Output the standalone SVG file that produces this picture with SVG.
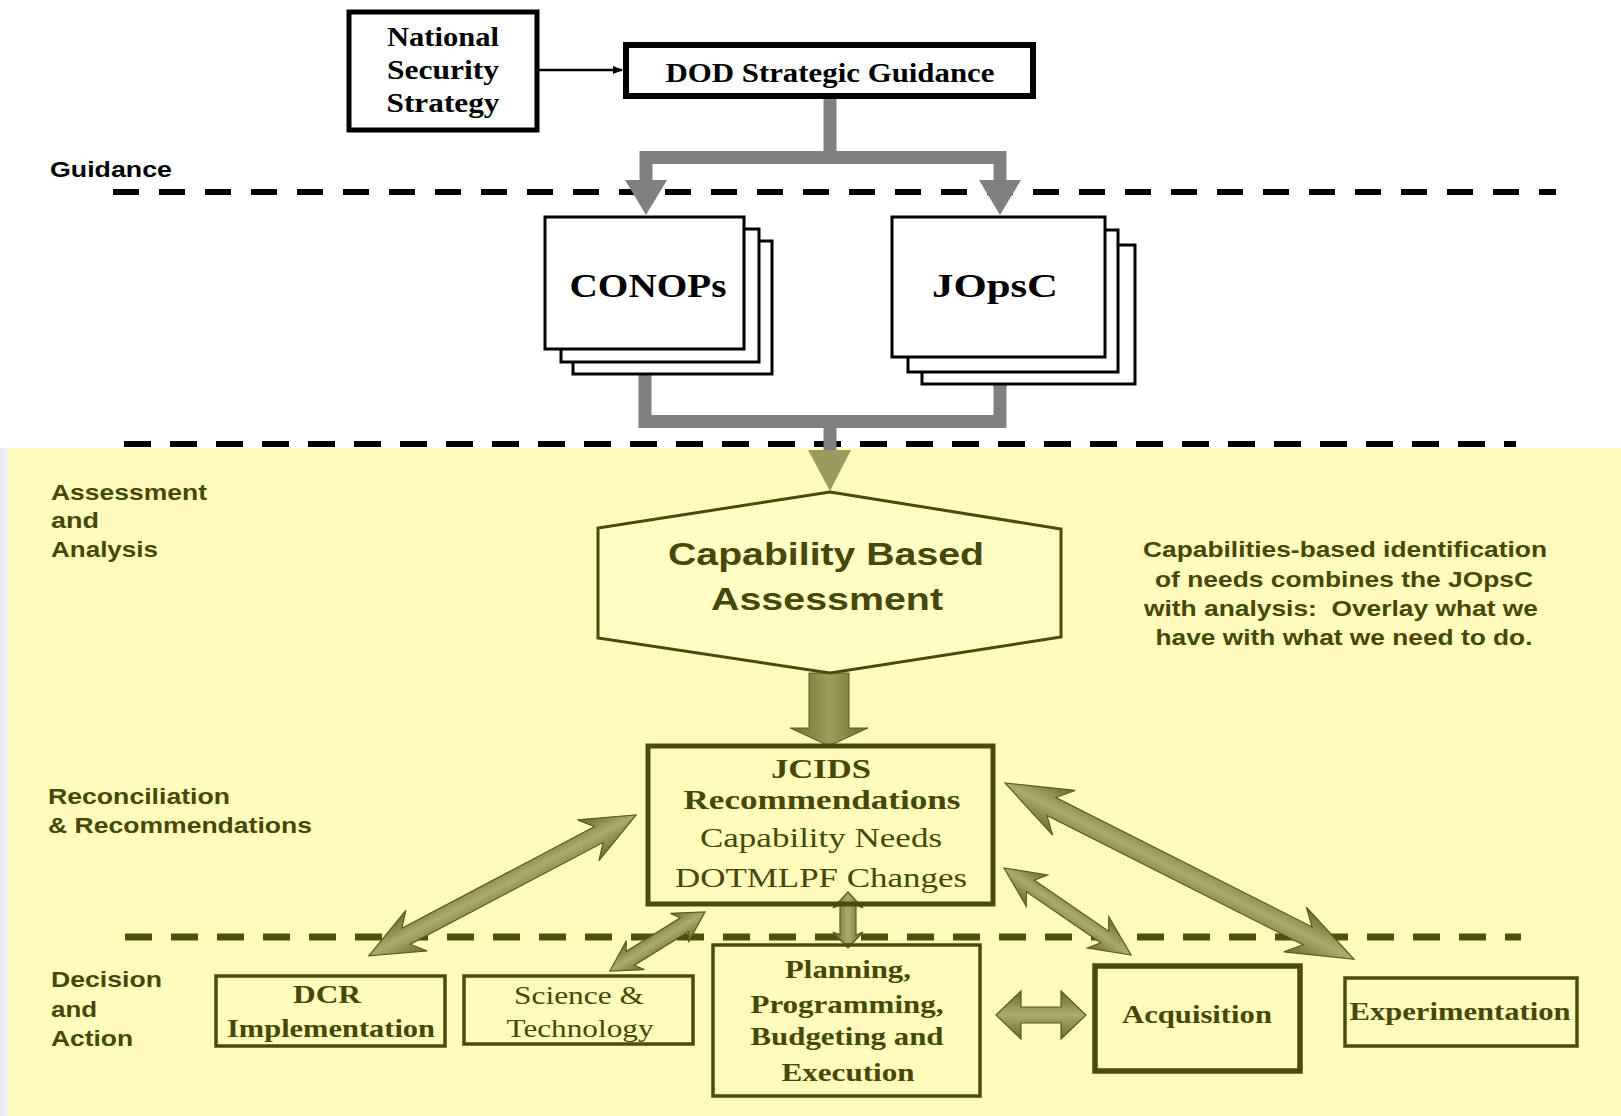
<svg xmlns="http://www.w3.org/2000/svg" width="1621" height="1116" viewBox="0 0 1621 1116">
<style>
.serif{font-family:"Liberation Serif","Times New Roman",serif}
.sans{font-family:"Liberation Sans",Arial,sans-serif}
.b{font-weight:bold}
.blk{fill:#000}
.olv{fill:#47470a}
.lbl{font-family:"Liberation Sans",Arial,sans-serif;font-weight:bold;font-size:22px;fill:#47470a}
.box{fill:none;stroke:#4a4a0b}
.page{fill:#fff;stroke:#000;stroke-width:3}
.dbl{fill:url(#oliveG);stroke:#5a5a1e;stroke-width:1.2}
</style>
<defs>
<linearGradient id="oliveG" x1="0" y1="0" x2="0" y2="1">
<stop offset="0" stop-color="#6c6c28"/>
<stop offset="0.5" stop-color="#abab6c"/>
<stop offset="1" stop-color="#6c6c28"/>
</linearGradient>
<linearGradient id="oliveH" x1="0" y1="0" x2="1" y2="0">
<stop offset="0" stop-color="#6c6c28"/>
<stop offset="0.5" stop-color="#9e9e5c"/>
<stop offset="1" stop-color="#6c6c28"/>
</linearGradient>
<linearGradient id="strip" x1="0" y1="0" x2="1" y2="0">
<stop offset="0" stop-color="#e4e4f0"/>
<stop offset="1" stop-color="#f2f2f8"/>
</linearGradient>
<marker id="blkArrow" markerWidth="10" markerHeight="10" refX="9" refY="5" orient="auto" markerUnits="userSpaceOnUse">
<path d="M0,1 L10,5 L0,9 Z" fill="#000"/>
</marker>
</defs>

<g id="background">
<rect x="0" y="0" width="1621" height="1116" fill="#fff"/>
<rect x="0" y="448" width="8" height="668" fill="url(#strip)"/>
<rect x="8" y="448" width="1613" height="668" fill="#fffcbb"/>
</g>

<g id="dividers">
<path d="M113,192 H1556" stroke="#000" stroke-width="6" stroke-dasharray="26 20"/>
<path d="M124,444 H1516" stroke="#000" stroke-width="6" stroke-dasharray="27 19"/>
<path d="M125,937 H1521" stroke="#50500c" stroke-width="7" stroke-dasharray="27 19"/>
</g>

<g id="labels">
<text class="sans b blk" x="50" y="177" font-size="22" textLength="122" lengthAdjust="spacingAndGlyphs">Guidance</text>
<text class="lbl" x="51" y="500" textLength="156" lengthAdjust="spacingAndGlyphs">Assessment</text>
<text class="lbl" x="51" y="528" textLength="48" lengthAdjust="spacingAndGlyphs">and</text>
<text class="lbl" x="51" y="557" textLength="107" lengthAdjust="spacingAndGlyphs">Analysis</text>
<text class="lbl" x="48" y="804" textLength="182" lengthAdjust="spacingAndGlyphs">Reconciliation</text>
<text class="lbl" x="48" y="833" textLength="264" lengthAdjust="spacingAndGlyphs">&amp; Recommendations</text>
<text class="lbl" x="51" y="987" textLength="111" lengthAdjust="spacingAndGlyphs">Decision</text>
<text class="lbl" x="51" y="1017" textLength="46" lengthAdjust="spacingAndGlyphs">and</text>
<text class="lbl" x="51" y="1046" textLength="82" lengthAdjust="spacingAndGlyphs">Action</text>
</g>

<g id="connectors">
<line x1="539" y1="70" x2="622" y2="70" stroke="#000" stroke-width="2.5" marker-end="url(#blkArrow)"/>
<path d="M830,99 V157.5 M646,182 V157.5 H1000 V182" fill="none" stroke="#808080" stroke-width="13"/>
<polygon points="625,180 667,180 646,215" fill="#808080"/>
<polygon points="979,180 1021,180 1000,215" fill="#808080"/>
<path d="M645,350 V421.5 H1000 V357 M830,421.5 V452" fill="none" stroke="#808080" stroke-width="13"/>
<polygon points="808,450 851,450 830,491" fill="#9b9b5f"/>
<polygon points="809,673 849,673 849,728 868,728 829,746 790,728 809,728" fill="url(#oliveH)" stroke="#5a5a1e" stroke-width="1"/>
<path class="dbl" transform="translate(636,815) rotate(152.2)" d="M0,0 L54,-23 L42,-9 L260,-9 L248,-23 L302,0 L248,23 L260,9 L42,9 L54,23 Z"/>
<path class="dbl" transform="translate(705,912) rotate(148.2)" d="M0,0 L30,-17 L24,-8 L88,-8 L82,-17 L112,0 L82,17 L88,8 L24,8 L30,17 Z"/>
<path class="dbl" transform="translate(848,892) rotate(90)" d="M0,0 L16,-15 L13,-8 L43,-8 L40,-15 L56,0 L40,15 L43,8 L13,8 L16,15 Z"/>
<path class="dbl" transform="translate(1004,868) rotate(34.4)" d="M0,0 L40,-19 L32,-7 L122,-7 L114,-19 L154,0 L114,19 L122,7 L32,7 L40,19 Z"/>
<path class="dbl" transform="translate(1005,783) rotate(26.8)" d="M0,0 L66,-25 L52,-10 L339,-10 L325,-25 L391,0 L325,25 L339,10 L52,10 L66,25 Z"/>
<path class="dbl" d="M996,1015 L1021,991 L1021,1007 L1061,1007 L1061,991 L1086,1015 L1061,1039 L1061,1023 L1021,1023 L1021,1039 Z"/>
</g>

<g id="nss">
<rect x="349" y="12" width="188" height="118" fill="#fff" stroke="#000" stroke-width="5"/>
<text class="serif b blk" font-size="27" text-anchor="middle" x="443" y="46" textLength="112" lengthAdjust="spacingAndGlyphs">National</text>
<text class="serif b blk" font-size="27" text-anchor="middle" x="443" y="79" textLength="112" lengthAdjust="spacingAndGlyphs">Security</text>
<text class="serif b blk" font-size="27" text-anchor="middle" x="443" y="112" textLength="113" lengthAdjust="spacingAndGlyphs">Strategy</text>
</g>

<g id="dod">
<rect x="626" y="45" width="407" height="51" fill="#fff" stroke="#000" stroke-width="6"/>
<text class="serif b blk" font-size="27" text-anchor="middle" x="830" y="82" textLength="329" lengthAdjust="spacingAndGlyphs">DOD Strategic Guidance</text>
</g>

<g id="conops">
<rect class="page" x="573" y="241" width="199" height="133"/>
<rect class="page" x="561" y="229" width="198" height="133"/>
<rect class="page" x="545" y="217" width="199" height="132"/>
<text class="serif b blk" font-size="33" text-anchor="middle" x="648" y="297" textLength="157" lengthAdjust="spacingAndGlyphs">CONOPs</text>
</g>

<g id="jopsc">
<rect class="page" x="922" y="245" width="213" height="139"/>
<rect class="page" x="908" y="230" width="210" height="142"/>
<rect class="page" x="892" y="217" width="213" height="140"/>
<text class="serif b blk" font-size="34" text-anchor="middle" x="995" y="297" textLength="126" lengthAdjust="spacingAndGlyphs">JOpsC</text>
</g>

<g id="cba">
<polygon points="830,492 1061,529 1061,637 830,673 598,638 598,528" fill="#fffdc4" stroke="#4a4a0b" stroke-width="3"/>
<text class="sans b olv" font-size="32" text-anchor="middle" x="826" y="565" textLength="316" lengthAdjust="spacingAndGlyphs">Capability Based</text>
<text class="sans b olv" font-size="32" text-anchor="middle" x="827" y="610" textLength="232" lengthAdjust="spacingAndGlyphs">Assessment</text>
</g>

<g id="note">
<text class="sans b olv" font-size="22" text-anchor="middle" x="1345" y="557" textLength="404" lengthAdjust="spacingAndGlyphs">Capabilities-based identification</text>
<text class="sans b olv" font-size="22" text-anchor="middle" x="1344" y="587" textLength="378" lengthAdjust="spacingAndGlyphs">of needs combines the JOpsC</text>
<text class="sans b olv" font-size="22" text-anchor="middle" x="1341" y="616" textLength="394" lengthAdjust="spacingAndGlyphs" xml:space="preserve">with analysis:  Overlay what we</text>
<text class="sans b olv" font-size="22" text-anchor="middle" x="1344" y="645" textLength="377" lengthAdjust="spacingAndGlyphs">have with what we need to do.</text>
</g>

<g id="jcids">
<rect class="box" x="648" y="746" width="345" height="158" stroke-width="5"/>
<text class="serif b olv" font-size="28" text-anchor="middle" x="821" y="778" textLength="100" lengthAdjust="spacingAndGlyphs">JCIDS</text>
<text class="serif b olv" font-size="28" text-anchor="middle" x="822" y="809" textLength="277" lengthAdjust="spacingAndGlyphs">Recommendations</text>
<text class="serif olv" font-size="28" text-anchor="middle" x="821" y="847" textLength="242" lengthAdjust="spacingAndGlyphs">Capability Needs</text>
<text class="serif olv" font-size="28" text-anchor="middle" x="821" y="887" textLength="292" lengthAdjust="spacingAndGlyphs">DOTMLPF Changes</text>
</g>

<g id="dcr">
<rect class="box" x="216" y="976" width="229" height="70" stroke-width="3.5"/>
<text class="serif b olv" font-size="26" text-anchor="middle" x="327" y="1003" textLength="68" lengthAdjust="spacingAndGlyphs">DCR</text>
<text class="serif b olv" font-size="26" text-anchor="middle" x="331" y="1037" textLength="208" lengthAdjust="spacingAndGlyphs">Implementation</text>
</g>

<g id="st">
<rect class="box" x="464" y="976" width="229" height="68" stroke-width="3.5"/>
<text class="serif olv" font-size="26" text-anchor="middle" x="579" y="1004" textLength="130" lengthAdjust="spacingAndGlyphs">Science &amp;</text>
<text class="serif olv" font-size="26" text-anchor="middle" x="580" y="1037" textLength="147" lengthAdjust="spacingAndGlyphs">Technology</text>
</g>

<g id="ppbe">
<rect class="box" x="713" y="945" width="267" height="151" stroke-width="3.5"/>
<text class="serif b olv" font-size="26" text-anchor="middle" x="848" y="978" textLength="126" lengthAdjust="spacingAndGlyphs">Planning,</text>
<text class="serif b olv" font-size="26" text-anchor="middle" x="847" y="1013" textLength="193" lengthAdjust="spacingAndGlyphs">Programming,</text>
<text class="serif b olv" font-size="26" text-anchor="middle" x="847" y="1045" textLength="193" lengthAdjust="spacingAndGlyphs">Budgeting and</text>
<text class="serif b olv" font-size="26" text-anchor="middle" x="848" y="1081" textLength="133" lengthAdjust="spacingAndGlyphs">Execution</text>
</g>

<g id="acquisition">
<rect class="box" x="1095" y="966" width="205" height="105" stroke-width="5.5"/>
<text class="serif b olv" font-size="26" text-anchor="middle" x="1197" y="1023" textLength="150" lengthAdjust="spacingAndGlyphs">Acquisition</text>
</g>

<g id="experimentation">
<rect class="box" x="1345" y="978" width="232" height="68" stroke-width="3.5"/>
<text class="serif b olv" font-size="26" text-anchor="middle" x="1460" y="1020" textLength="221" lengthAdjust="spacingAndGlyphs">Experimentation</text>
</g>
</svg>
